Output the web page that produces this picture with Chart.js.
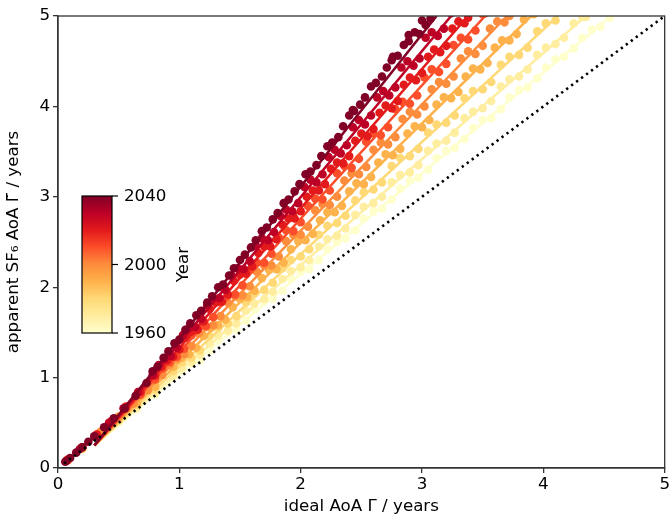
<!DOCTYPE html>
<html>
<head>
<meta charset="utf-8">
<script src="https://cdn.jsdelivr.net/npm/chart.js@4.4.1/dist/chart.umd.min.js"></script>
<style>
  html, body { margin: 0; padding: 0; background: #fff; overflow: hidden; }
  #wrap { width: 672px; height: 521px; }
</style>
</head>
<body>
<div id="wrap"><canvas id="aoa" width="672" height="521"></canvas></div>
<script>
// years shown, one scatter + fitted line each
const years = [1960, 1970, 1980, 1990, 2000, 2010, 2020, 2030, 2040];
const axisTicks = [0, 1, 2, 3, 4, 5];
const cbarTicks = [1960, 2000, 2040];

// fitted lines: common start, x where each line reaches y = 5
const fitStart = [0.3, 0.25];
const fitTopX = [4.56, 4.35, 4.12, 3.90, 3.70, 3.52, 3.38, 3.24, 3.12];

// ideal vs apparent age
const pts1960 = [[0.08,0.08],[0.2,0.21],[0.35,0.36],[0.5,0.50],[0.65,0.65],[0.8,0.81],[0.95,1.06],[1.1,1.16],[1.25,1.30],[1.4,1.50],[1.55,1.63],[1.7,1.84],[1.85,1.96],[2.0,2.17],[2.15,2.30],[2.3,2.50],[2.45,2.63],[2.6,2.84],[2.75,2.97],[2.9,3.18],[3.05,3.30],[3.2,3.51],[3.35,3.64],[3.5,3.85],[3.65,3.97],[3.8,4.18],[3.95,4.31],[4.1,4.52],[4.25,4.64],[4.4,4.85],[4.55,4.98],
  [1.02,1.08],[1.17,1.19],[1.32,1.41],[1.47,1.53],[1.62,1.75],[1.77,1.87],[1.92,2.09],[2.07,2.20],[2.22,2.42],[2.37,2.54],[2.52,2.76],[2.67,2.87],[2.82,3.09],[2.97,3.21],[3.12,3.43],[3.27,3.54],[3.42,3.76],[3.57,3.87],[3.72,4.10],[3.87,4.21],[4.02,4.43],[4.17,4.55],[4.32,4.76],[4.47,4.88]];
const pts1970 = [[0.08,0.08],[0.2,0.21],[0.35,0.37],[0.5,0.52],[0.65,0.67],[0.8,0.83],[0.95,1.02],[1.1,1.17],[1.25,1.38],[1.4,1.52],[1.55,1.74],[1.7,1.87],[1.85,2.09],[2.0,2.22],[2.15,2.45],[2.3,2.57],[2.45,2.80],[2.6,2.93],[2.75,3.16],[2.9,3.27],[3.05,3.51],[3.2,3.62],[3.35,3.87],[3.5,3.98],[3.65,4.22],[3.8,4.33],[3.95,4.57],[4.1,4.69],[4.25,4.92],[4.35,4.99],
  [1.02,1.11],[1.17,1.25],[1.32,1.47],[1.47,1.60],[1.62,1.82],[1.77,1.95],[1.92,2.18],[2.07,2.30],[2.22,2.53],[2.37,2.65],[2.52,2.89],[2.67,3.00],[2.82,3.24],[2.97,3.35],[3.12,3.59],[3.27,3.71],[3.42,3.94],[3.57,4.06],[3.72,4.30],[3.87,4.41],[4.02,4.65],[4.17,4.76],[4.32,4.99]];
const pts1980 = [[0.08,0.09],[0.2,0.22],[0.35,0.38],[0.5,0.53],[0.65,0.70],[0.8,0.87],[0.95,1.07],[1.1,1.22],[1.25,1.46],[1.4,1.60],[1.55,1.83],[1.7,1.97],[1.85,2.21],[2.0,2.34],[2.15,2.58],[2.3,2.71],[2.45,2.96],[2.6,3.08],[2.75,3.34],[2.9,3.45],[3.05,3.71],[3.2,3.82],[3.35,4.09],[3.5,4.19],[3.65,4.46],[3.8,4.57],[3.95,4.83],[4.1,4.95],
  [1.02,1.17],[1.17,1.30],[1.32,1.55],[1.47,1.68],[1.62,1.93],[1.77,2.05],[1.92,2.30],[2.07,2.42],[2.22,2.68],[2.37,2.79],[2.52,3.05],[2.67,3.16],[2.82,3.43],[2.97,3.53],[3.12,3.80],[3.27,3.90],[3.42,4.17],[3.57,4.27],[3.72,4.55],[3.87,4.65],[4.02,4.92]];
const pts1990 = [[0.08,0.09],[0.2,0.22],[0.35,0.39],[0.5,0.55],[0.65,0.72],[0.8,0.90],[0.95,1.12],[1.08,1.26],[1.2,1.46],[1.32,1.58],[1.44,1.78],[1.56,1.89],[1.68,2.10],[1.8,2.20],[1.92,2.42],[2.04,2.52],[2.16,2.74],[2.28,2.83],[2.4,3.06],[2.52,3.14],[2.64,3.38],[2.76,3.46],[2.88,3.70],[3.0,3.77],[3.12,4.02],[3.24,4.09],[3.36,4.33],[3.48,4.41],[3.6,4.65],[3.72,4.73],[3.84,4.96],[3.92,5.02],
  [1.02,1.22],[1.14,1.33],[1.26,1.55],[1.38,1.64],[1.5,1.87],[1.62,1.96],[1.74,2.19],[1.86,2.27],[1.98,2.51],[2.1,2.59],[2.22,2.83],[2.34,2.90],[2.46,3.15],[2.58,3.22],[2.7,3.47],[2.82,3.53],[2.94,3.78],[3.06,3.85],[3.18,4.10],[3.3,4.16],[3.42,4.42],[3.54,4.48],[3.66,4.73],[3.78,4.80]];
const pts2000 = [[0.08,0.09],[0.2,0.23],[0.35,0.40],[0.5,0.57],[0.62,0.71],[0.74,0.86],[0.86,1.03],[0.98,1.21],[1.1,1.35],[1.22,1.56],[1.34,1.68],[1.46,1.90],[1.58,2.01],[1.7,2.24],[1.82,2.34],[1.94,2.58],[2.06,2.67],[2.18,2.92],[2.3,3.00],[2.42,3.26],[2.54,3.33],[2.66,3.60],[2.78,3.66],[2.9,3.94],[3.02,4.00],[3.14,4.27],[3.26,4.33],[3.38,4.61],[3.5,4.67],[3.62,4.94],[3.72,5.00],
  [0.92,1.14],[1.04,1.26],[1.16,1.49],[1.28,1.58],[1.4,1.83],[1.52,1.91],[1.64,2.17],[1.76,2.24],[1.88,2.51],[2.0,2.58],[2.12,2.85],[2.24,2.91],[2.36,3.18],[2.48,3.25],[2.6,3.52],[2.72,3.58],[2.84,3.86],[2.96,3.91],[3.08,4.19],[3.2,4.25],[3.32,4.53],[3.44,4.58],[3.56,4.86],[3.68,4.93]];
const pts2010 = [[0.08,0.09],[0.2,0.23],[0.32,0.37],[0.44,0.51],[0.56,0.66],[0.68,0.81],[0.8,0.98],[0.92,1.17],[1.04,1.32],[1.16,1.55],[1.28,1.67],[1.4,1.91],[1.52,2.02],[1.64,2.27],[1.76,2.37],[1.88,2.63],[2.0,2.72],[2.12,2.98],[2.24,3.07],[2.36,3.34],[2.48,3.42],[2.6,3.70],[2.72,3.77],[2.84,4.05],[2.96,4.12],[3.08,4.41],[3.2,4.47],[3.32,4.76],[3.44,4.84],[3.52,5.03],
  [0.86,1.10],[0.98,1.23],[1.1,1.47],[1.22,1.57],[1.34,1.83],[1.46,1.92],[1.58,2.19],[1.7,2.27],[1.82,2.55],[1.94,2.62],[2.06,2.90],[2.18,2.97],[2.3,3.26],[2.42,3.32],[2.54,3.61],[2.66,3.68],[2.78,3.97],[2.9,4.03],[3.02,4.32],[3.14,4.38],[3.26,4.68],[3.38,4.74],[3.5,5.02]];
const pts2020 = [[0.08,0.09],[0.2,0.23],[0.32,0.37],[0.44,0.52],[0.56,0.68],[0.68,0.84],[0.8,1.02],[0.9,1.19],[1.0,1.31],[1.1,1.51],[1.2,1.62],[1.3,1.83],[1.4,1.92],[1.5,2.14],[1.6,2.23],[1.7,2.45],[1.8,2.53],[1.9,2.76],[2.0,2.84],[2.1,3.07],[2.2,3.14],[2.3,3.38],[2.4,3.45],[2.5,3.70],[2.6,3.75],[2.7,4.01],[2.8,4.06],[2.9,4.32],[3.0,4.37],[3.1,4.63],[3.2,4.67],[3.3,4.94],[3.38,4.98],
  [0.85,1.12],[0.95,1.23],[1.05,1.44],[1.15,1.53],[1.25,1.76],[1.35,1.84],[1.45,2.07],[1.55,2.15],[1.65,2.38],[1.75,2.45],[1.85,2.69],[1.95,2.76],[2.05,3.00],[2.15,3.07],[2.25,3.31],[2.35,3.37],[2.45,3.62],[2.55,3.67],[2.65,3.93],[2.75,3.98],[2.85,4.24],[2.95,4.29],[3.05,4.55],[3.15,4.60],[3.25,4.86],[3.35,4.92]];
const pts2030 = [[0.07,0.08],[0.18,0.21],[0.3,0.35],[0.42,0.50],[0.54,0.66],[0.66,0.84],[0.78,1.03],[0.88,1.21],[0.98,1.33],[1.08,1.55],[1.18,1.65],[1.28,1.88],[1.38,1.97],[1.48,2.21],[1.58,2.29],[1.68,2.54],[1.78,2.61],[1.88,2.86],[1.98,2.93],[2.08,3.19],[2.18,3.25],[2.28,3.52],[2.38,3.57],[2.48,3.85],[2.58,3.90],[2.68,4.17],[2.78,4.21],[2.88,4.50],[2.98,4.53],[3.08,4.82],[3.18,4.86],[3.24,5.03],
  [0.83,1.14],[0.93,1.24],[1.03,1.47],[1.13,1.56],[1.23,1.80],[1.33,1.88],[1.43,2.13],[1.53,2.20],[1.63,2.46],[1.73,2.52],[1.83,2.79],[1.93,2.84],[2.03,3.11],[2.13,3.16],[2.23,3.44],[2.33,3.48],[2.43,3.77],[2.53,3.80],[2.63,4.10],[2.73,4.12],[2.83,4.43],[2.93,4.45],[3.03,4.76],[3.13,4.78],[3.23,5.06]];
const pts2040 = [[0.06,0.07],[0.1,0.11],[0.15,0.17],[0.2,0.23],[0.25,0.29],[0.3,0.35],[0.38,0.45],[0.46,0.55],[0.55,0.66],[0.64,0.80],[0.73,0.94],[0.82,1.12],[0.91,1.29],[1.0,1.42],[1.09,1.60],[1.18,1.74],[1.27,1.90],[1.36,2.03],[1.45,2.21],[1.54,2.36],[1.63,2.52],[1.72,2.66],[1.81,2.82],[1.9,2.97],[1.99,3.14],[2.08,3.28],[2.17,3.45],[2.26,3.60],[2.35,3.78],[2.44,3.95],[2.53,4.10],[2.62,4.26],[2.71,4.43],[2.8,4.56],[2.89,4.72],[2.98,4.80],[3.07,4.97],[3.14,5.05],
  [0.78,1.07],[0.87,1.22],[0.96,1.38],[1.05,1.53],[1.14,1.69],[1.23,1.83],[1.32,2.00],[1.41,2.13],[1.5,2.30],[1.59,2.44],[1.68,2.62],[1.77,2.75],[1.86,2.93],[1.95,3.06],[2.04,3.25],[2.13,3.35],[2.22,3.56],[2.31,3.66],[2.4,3.90],[2.49,4.02],[2.58,4.22],[2.67,4.33],[2.76,4.55],[2.85,4.68],[2.94,4.82],[3.03,4.90],[2.43,3.96],[2.75,4.51],[2.89,4.79],[3.0,4.95]];
const ptsByYear = [pts1960, pts1970, pts1980, pts1990, pts2000, pts2010, pts2020, pts2030, pts2040];

// YlOrRd colour stops
const cmap = ['#ffffcc', '#ffeda0', '#fed976', '#feb24c', '#fd8d3c', '#fc4e2a', '#e31a1c', '#bd0026', '#800026'];

function hexRgb(h) {
  return [parseInt(h.slice(1, 3), 16), parseInt(h.slice(3, 5), 16), parseInt(h.slice(5, 7), 16)];
}
function colorAt(t) {
  t = Math.max(0, Math.min(1, t));
  const f = t * (cmap.length - 1);
  const i = Math.min(Math.floor(f), cmap.length - 2);
  const a = hexRgb(cmap[i]), b = hexRgb(cmap[i + 1]), k = f - i;
  const c = a.map((v, j) => Math.round(v + (b[j] - v) * k));
  return 'rgb(' + c.join(',') + ')';
}

const yMin = cbarTicks[0], yMax = cbarTicks[cbarTicks.length - 1];
const datasets = [];
years.forEach((yr, i) => {
  const col = colorAt((yr - yMin) / (yMax - yMin));
  datasets.push({
    type: 'scatter',
    data: ptsByYear[i].map(p => ({ x: p[0], y: p[1] })),
    backgroundColor: col,
    borderWidth: 0,
    pointRadius: 4.3,
    order: 100 - 2 * i
  });
  datasets.push({
    type: 'line',
    data: [{ x: fitStart[0], y: fitStart[1] }, { x: fitTopX[i], y: 5 }],
    borderColor: col,
    borderWidth: 2.5,
    pointRadius: 0,
    fill: false,
    order: 99 - 2 * i
  });
});
// 1:1 line
datasets.push({
  type: 'line',
  data: [{ x: 0.05, y: 0.05 }, { x: 5, y: 5 }],
  borderColor: '#000',
  borderWidth: 2.6,
  borderDash: [2.3, 3.9],
  pointRadius: 0,
  fill: false,
  order: -1
});

const FONT = 'DejaVu Sans';
const FS = 16.7;

// box round the plot + the colorbar inset
const framePlugin = {
  id: 'frame',
  afterDraw(chart) {
    const { ctx, chartArea: a } = chart;
    ctx.save();
    ctx.strokeStyle = '#333';
    ctx.lineWidth = 1.3;
    ctx.strokeRect(a.left, a.top, a.right - a.left, a.bottom - a.top);

    const cx = 82, cy = 196, cw = 30, ch = 137;
    const g = ctx.createLinearGradient(0, cy + ch, 0, cy);
    cmap.forEach((c, i) => g.addColorStop(i / (cmap.length - 1), c));
    ctx.fillStyle = g;
    ctx.fillRect(cx, cy, cw, ch);
    ctx.strokeStyle = '#000';
    ctx.lineWidth = 1.2;
    ctx.strokeRect(cx, cy, cw, ch);
    ctx.fillStyle = '#000';
    ctx.font = FS + 'px "' + FONT + '"';
    ctx.textAlign = 'left';
    ctx.textBaseline = 'middle';
    cbarTicks.forEach(t => {
      const yy = cy + ch - (t - yMin) / (yMax - yMin) * ch;
      ctx.beginPath();
      ctx.moveTo(cx + cw, yy);
      ctx.lineTo(cx + cw + 6, yy);
      ctx.stroke();
      ctx.fillText(String(t), cx + cw + 12, yy + 1);
    });
    ctx.translate(184, cy + ch / 2);
    ctx.rotate(-Math.PI / 2);
    ctx.textAlign = 'center';
    ctx.fillText('Year', 0, 0);
    ctx.restore();
  }
};

new Chart(document.getElementById('aoa').getContext('2d'), {
  data: { datasets },
  options: {
    responsive: false,
    animation: false,
    events: [],
    layout: { padding: { top: 16, right: 0, left: 0, bottom: 0 } },
    plugins: { legend: { display: false }, tooltip: { enabled: false } },
    scales: {
      x: {
        type: 'linear', min: 0, max: 5,
        afterBuildTicks: s => { s.ticks = axisTicks.map(v => ({ value: v })); },
        afterFit: s => { s.height = 53; },
        ticks: { color: '#000', font: { family: FONT, size: FS }, padding: 2, maxRotation: 0 },
        grid: { drawOnChartArea: false, drawTicks: true, tickLength: 5, color: '#333', lineWidth: 1.3 },
        border: { display: true, color: '#333', width: 1.3 },
        title: { display: true, text: 'ideal AoA Γ / years', color: '#000', font: { family: FONT, size: FS }, padding: { top: 0 } }
      },
      y: {
        type: 'linear', min: 0, max: 5,
        afterBuildTicks: s => { s.ticks = axisTicks.map(v => ({ value: v })); },
        afterFit: s => { s.width = 58; },
        ticks: { color: '#000', font: { family: FONT, size: FS }, padding: 3 },
        grid: { drawOnChartArea: false, drawTicks: true, tickLength: 5, color: '#333', lineWidth: 1.3 },
        border: { display: true, color: '#333', width: 1.3 },
        title: { display: true, text: 'apparent SF₆ AoA Γ̃ / years', color: '#000', font: { family: FONT, size: FS }, padding: { bottom: 3 } }
      }
    }
  },
  plugins: [framePlugin]
});
</script>
</body>
</html>
